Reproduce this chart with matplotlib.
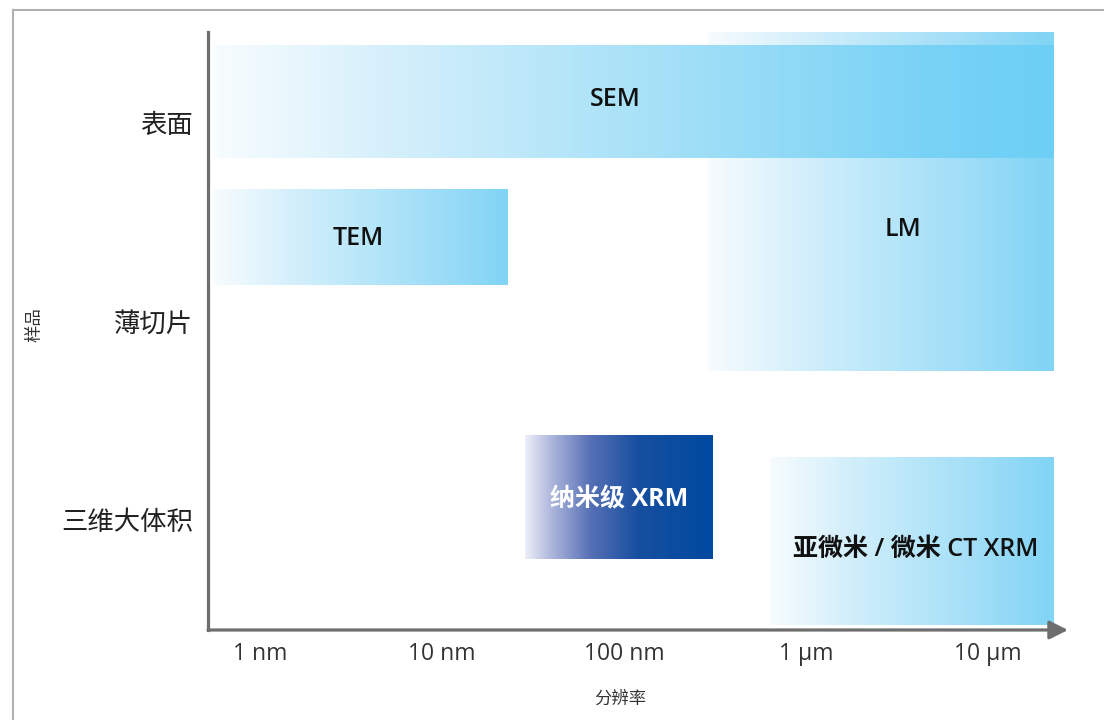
import numpy as np
import matplotlib
matplotlib.use('Agg')
import matplotlib.pyplot as plt
from matplotlib.colors import LinearSegmentedColormap
from matplotlib.lines import Line2D

plt.rcParams['font.family'] = ['Open Sans', 'Noto Sans CJK SC', 'DejaVu Sans']

# resolution ranges in nm (x) and sample types (y)
categories = ['表面', '薄切片', '三维大体积']
tick_nm = [1, 10, 100, 1000, 10000]
tick_labels = ['1 nm', '10 nm', '100 nm', '1 µm', '10 µm']

techniques = ['LM', 'SEM', 'TEM', '纳米级 XRM', '亚微米 / 微米 CT XRM']
res_min = [290, 0.56, 0.56, 28.6, 634]
res_max = [23000, 23000, 23, 305, 23000]
# vertical extent of each block (in category units)
y_top = [-0.462, -0.387, 0.332, 1.568, 1.683]
y_bot = [1.246, 0.176, 0.814, 2.191, 2.523]
label_x = [3400, 90, 3.45, 94, 4000]
label_y = [0.535, -0.12, 0.58, 1.895, 2.145]
label_weight = ['semibold', 'semibold', 'semibold', 'bold', 'semibold']

light = LinearSegmentedColormap.from_list('light', [(0, '#f7fcfe'), (0.25, '#d6f0fb'), (0.5, '#b9e7f9'),
                                                    (0.75, '#9fddf7'), (1.0, '#80d4f5')])
sem_cm = LinearSegmentedColormap.from_list('sem', [(0, '#f7fcfe'), (0.2, '#d6f0fb'), (0.45, '#b0e4f8'),
                                                   (0.7, '#8ed9f6'), (0.85, '#78d2f5'), (1.0, '#6dcff5')])
dark = LinearSegmentedColormap.from_list('dark', [(0, '#eceef8'), (0.15, '#a9b3da'), (0.35, '#5670b5'),
                                                  (0.6, '#174fa0'), (1.0, '#004a9f')])
cmaps = [light, sem_cm, light, dark, light]
txt_color = ['#111111', '#111111', '#111111', 'white', '#111111']

fig = plt.figure(figsize=(11.04, 7.2), dpi=100)
ax = fig.add_axes([208 / 1104, 90 / 720, 860 / 1104, 598 / 720])

grad = np.linspace(0, 1, 256).reshape(1, -1)
for i in range(len(techniques)):
    x0, x1 = np.log10(res_min[i]), np.log10(res_max[i])
    ax.imshow(grad, cmap=cmaps[i], aspect='auto', interpolation='bilinear',
              extent=[x0, x1, y_bot[i], y_top[i]], zorder=2 + i)
    ax.text(np.log10(label_x[i]), label_y[i], techniques[i], ha='center', va='center',
            fontsize=18, fontweight=label_weight[i], color=txt_color[i], zorder=10)

ax.set_xlim(-0.286, 4.44)
ax.set_ylim(2.548, -0.457)

ax.set_xticks(np.log10(tick_nm))
ax.set_xticklabels(tick_labels, fontsize=16.5, color='#333333')
ax.set_yticks(range(len(categories)))
ax.set_yticklabels(categories, fontsize=19, color='#222222', fontweight='light')
ax.tick_params(axis='both', length=0)
ax.tick_params(axis='x', pad=9)
ax.tick_params(axis='y', pad=11)

for s in ['top', 'right', 'bottom']:
    ax.spines[s].set_visible(False)
ax.spines['left'].set_color('#6e6e6e')
ax.spines['left'].set_linewidth(2.3)
ax.annotate('', xy=(1, 0), xytext=(0, 0), xycoords='axes fraction',
            arrowprops=dict(arrowstyle='-|>', color='#6e6e6e', lw=2.3, mutation_scale=28,
                            shrinkA=0, shrinkB=0), zorder=20, annotation_clip=False)

fig.text(620 / 1104, 1 - 700 / 720, '分辨率', ha='center', va='center', fontsize=12.5, color='#333333')
fig.text(35 / 1104, 1 - 325 / 720, '样品', ha='center', va='center', fontsize=12.5, color='#333333',
         rotation=90)

# frame lines
fig.add_artist(Line2D([13 / 1104, 1], [1 - 10 / 720, 1 - 10 / 720], color='#b0b0b0', lw=1.5))
fig.add_artist(Line2D([13 / 1104, 13 / 1104], [0, 1 - 10 / 720], color='#b0b0b0', lw=1.5))

fig.savefig('out.png', dpi=100)
